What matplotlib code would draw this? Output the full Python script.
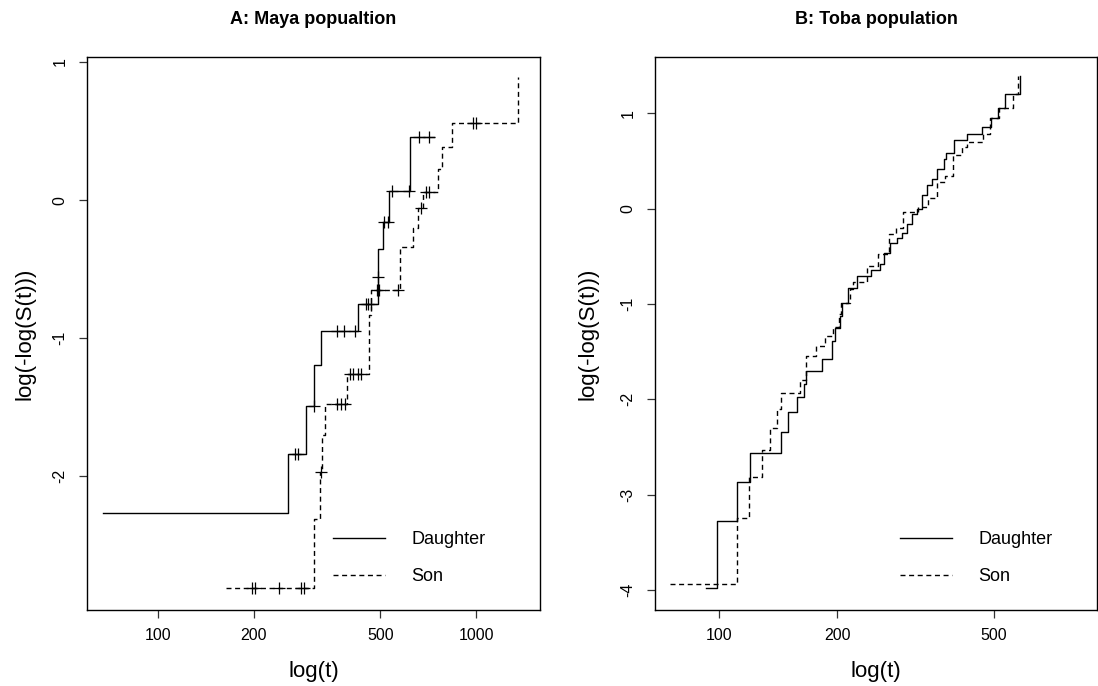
import numpy as np
import matplotlib
matplotlib.use("Agg")
import matplotlib.pyplot as plt

plt.rcParams['font.family'] = ['Liberation Sans', 'DejaVu Sans']

# ---- Panel A: Maya population ----
maya_daughter_t = [67, 257, 292, 310, 326, 424, 491, 493, 509, 533, 622, 736]
maya_daughter_y = [-2.266, -1.840, -1.492, -1.190, -0.949, -0.751, -0.554, -0.356,
                   -0.162, 0.065, 0.458, 0.458]
maya_daughter_cens = [269, 275, 309, 366, 385, 416, 450, 458, 466, 492, 513, 528,
                      543, 616, 662, 709]

maya_son_t = [164, 309, 324, 328, 334, 394, 461, 469, 576, 634, 657, 681, 760,
              781, 843, 1355]
maya_son_y = [-2.808, -2.305, -1.969, -1.698, -1.479, -1.259, -0.833, -0.652,
              -0.337, -0.201, -0.059, 0.057, 0.225, 0.385, 0.561, 0.892]
maya_son_cens = [197.5, 202, 240, 281, 288, 325, 366, 376, 387, 401, 410, 426,
                 436, 488, 494, 569, 673, 698, 711, 979, 1002]

# ---- Panel B: Toba population ----
toba_daughter_t = [93, 99.2, 111.3, 120, 144.3, 150, 158.5, 164.5, 167, 183, 194,
                   197, 203, 206, 213, 225, 243.7, 256.9, 263.4, 272, 284.3, 291.6,
                   300.3, 310.4, 318.4, 328, 337.5, 347.5, 358, 374, 379, 396,
                   428.5, 468, 491, 511.6, 534, 583]
toba_daughter_y = [-3.981, -3.277, -2.865, -2.566, -2.341, -2.135, -1.974, -1.835,
                   -1.704, -1.580, -1.386, -1.255, -1.124, -0.993, -0.835, -0.708,
                   -0.648, -0.581, -0.468, -0.363, -0.311, -0.258, -0.161, -0.056,
                   0.0, 0.139, 0.243, 0.307, 0.412, 0.524, 0.581, 0.719, 0.787,
                   0.861, 0.955, 1.06, 1.199, 1.386]

toba_son_t = [75, 111.3, 119.5, 128.8, 134.8, 140.6, 144.3, 160.7, 167, 176.5, 186,
              195.4, 202, 205, 215.4, 219.8, 238.4, 254, 270.7, 283, 294.4, 321.4,
              341, 358, 376, 394.6, 414.6, 426.6, 470.7, 489.3, 516.8, 561, 577.8]
toba_son_y = [-3.940, -3.240, -2.820, -2.528, -2.296, -2.097, -1.936, -1.798,
              -1.547, -1.442, -1.341, -1.247, -1.105, -0.993, -0.843, -0.775,
              -0.599, -0.479, -0.262, -0.199, -0.037, 0.0187, 0.112, 0.281, 0.337,
              0.562, 0.644, 0.700, 0.787, 0.955, 1.06, 1.199, 1.386]

titles = ["A: Maya popualtion", "B: Toba population"]
legend_labels = ["Daughter", "Son"]
xticks_A = [100, 200, 500, 1000]
xticks_B = [100, 200, 500]
yticks_A = [-2, -1, 0, 1]
yticks_B = [-4, -3, -2, -1, 0, 1]

W, H = 1098, 686
fig = plt.figure(figsize=(W / 100, H / 100), dpi=100)

def px_axes(l, r, t, b):
    return fig.add_axes([l / W, (H - b) / H, (r - l) / W, (b - t) / H])

A_BOX = (87, 540, 57, 610)
B_BOX = (655, 1097, 57, 610)
axA = px_axes(*A_BOX)
axB = px_axes(*B_BOX)

DASH = (3.6, 2.6)

def step_value(ts, ys, tc):
    idx = np.searchsorted(np.asarray(ts), np.asarray(tc), side='right') - 1
    idx = np.clip(idx, 0, len(ys) - 1)
    return np.asarray(ys)[idx]

def draw_curve(ax, ts, ys, dashed, cens=None):
    kw = dict(color='black', lw=1.0, drawstyle='steps-post')
    if dashed:
        kw['dashes'] = DASH
    line, = ax.plot(ts, ys, **kw)
    if cens is not None:
        ax.plot(cens, step_value(ts, ys, cens), ls='none', marker='+',
                ms=8, mew=0.9, color='black')
    return line

def style(ax, box, title, xticks, yticks, xlim, ylim, ylab_x):
    l, r, t, b = box
    ax.set_xscale('log')
    ax.set_xlim(*xlim)
    ax.set_ylim(*ylim)
    ax.set_xticks(xticks)
    ax.set_xticklabels([str(v) for v in xticks], fontsize=11.5)
    ax.xaxis.set_minor_locator(matplotlib.ticker.NullLocator())
    ax.set_yticks(yticks)
    ax.set_yticklabels([str(v) for v in yticks], fontsize=11.5, rotation=90,
                       va='center')
    ax.tick_params(axis='both', length=6, width=0.9, color='#333333')
    ax.tick_params(axis='x', pad=7)
    ax.tick_params(axis='y', pad=8)
    for s in ax.spines.values():
        s.set_linewidth(1.0)
        s.set_color('black')
    ax.set_xlabel("log(t)", fontsize=16)
    ax.xaxis.label.set_va('center')
    ax.xaxis.set_label_coords(0.5, (b - 672) / (b - t))
    ax.set_ylabel("log(-log(S(t)))", fontsize=16)
    ax.yaxis.label.set_va('center')
    ax.yaxis.set_label_coords((ylab_x - l) / (r - l), 0.5)
    ax.set_title(title, fontsize=13, fontweight='bold', pad=24)

LEG = dict(loc='upper left', frameon=False, fontsize=13, handlelength=2.9,
           handletextpad=1.45, labelspacing=1.08, borderpad=0, borderaxespad=0)

# Panel A
lA1 = draw_curve(axA, maya_daughter_t, maya_daughter_y, False, maya_daughter_cens)
lA2 = draw_curve(axA, maya_son_t, maya_son_y, True, maya_son_cens)
style(axA, A_BOX, titles[0], xticks_A, yticks_A, (59.8, 1589), (-2.967, 1.036), 25)
axA.legend([lA1, lA2], legend_labels, bbox_to_anchor=(0.543, 0.142), **LEG)

# Panel B
lB1 = draw_curve(axB, toba_daughter_t, toba_daughter_y, False)
lB2 = draw_curve(axB, toba_son_t, toba_son_y, True)
style(axB, B_BOX, titles[1], xticks_B, yticks_B, (68.8, 916), (-4.21, 1.59), 588)
axB.legend([lB1, lB2], legend_labels, bbox_to_anchor=(0.554, 0.142), **LEG)

fig.savefig("out.png", dpi=100)
